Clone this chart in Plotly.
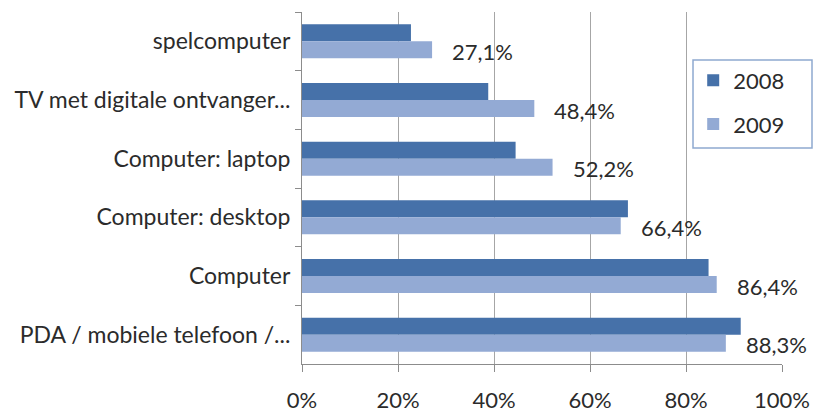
import plotly.graph_objects as go

# Device categories, top to bottom
categories = [
    "spelcomputer",
    "TV met digitale ontvanger...",
    "Computer: laptop",
    "Computer: desktop",
    "Computer",
    "PDA / mobiele telefoon /...",
]
values_2008 = [22.7, 38.8, 44.5, 67.9, 84.7, 91.4]
values_2009 = [27.1, 48.4, 52.2, 66.4, 86.4, 88.3]
tick_values = [0, 20, 40, 60, 80, 100]
tick_labels = ["0%", "20%", "40%", "60%", "80%", "100%"]

FONT = "Lato, 'Open Sans', sans-serif"
TEXT = "#2b2b2b"
SIZE = 22

fig = go.Figure()
fig.add_trace(go.Bar(
    y=categories, x=values_2008, name="2008", orientation="h",
    legendgroup="a",
    marker=dict(color="#4671A9", line=dict(width=0)),
))
fig.add_trace(go.Bar(
    y=categories, x=values_2009, name="2009", orientation="h",
    legendgroup="b",
    marker=dict(color="#93AAD4", line=dict(width=0)),
))

# Value labels next to the 2009 bars
for cat, v in zip(categories, values_2009):
    fig.add_annotation(
        x=v, y=cat, xref="x", yref="y",
        text=f"{v:.1f}".replace(".", ",") + "%",
        showarrow=False, xanchor="left", yanchor="middle",
        xshift=18, yshift=-10,
        font=dict(family=FONT, size=SIZE, color=TEXT),
    )

# Framed white panel behind the legend entries
fig.add_shape(
    type="rect", xref="paper", yref="paper",
    x0=0.8146, x1=1.0625, y0=0.6136, y1=0.8636,
    fillcolor="white", line=dict(color="#8EA9D0", width=1.5),
    layer="above",
)

fig.update_layout(
    width=830, height=414,
    margin=dict(l=302, r=48, t=12, b=50),
    paper_bgcolor="white", plot_bgcolor="white",
    barmode="group", bargap=0.42, bargroupgap=0,
    font=dict(family=FONT, size=SIZE, color=TEXT),
    legend=dict(
        x=0.815, y=0.865, xanchor="left", yanchor="top",
        bgcolor="rgba(0,0,0,0)", borderwidth=0,
        font=dict(family=FONT, size=SIZE, color=TEXT),
        itemsizing="constant", tracegroupgap=12,
        itemwidth=30,
    ),
    xaxis=dict(
        range=[0, 100], tickvals=tick_values, ticktext=tick_labels,
        showgrid=True, gridcolor="#A6A6A6", gridwidth=1,
        zeroline=False, showline=True, linecolor="#8C8C8C", linewidth=1,
        ticks="outside", ticklen=7, tickcolor="#8C8C8C",
        ticklabelstandoff=10, automargin=False,
        tickfont=dict(family=FONT, size=SIZE, color=TEXT),
        fixedrange=True,
    ),
    yaxis=dict(
        autorange="reversed", showline=True, linecolor="#8C8C8C", linewidth=1,
        ticks="outside", ticklen=6, tickcolor="#8C8C8C", tickson="boundaries",
        showgrid=False, ticklabelstandoff=6, automargin=False,
        tickfont=dict(family=FONT, size=23, color=TEXT),
    ),
)

fig.write_html("out.html")
